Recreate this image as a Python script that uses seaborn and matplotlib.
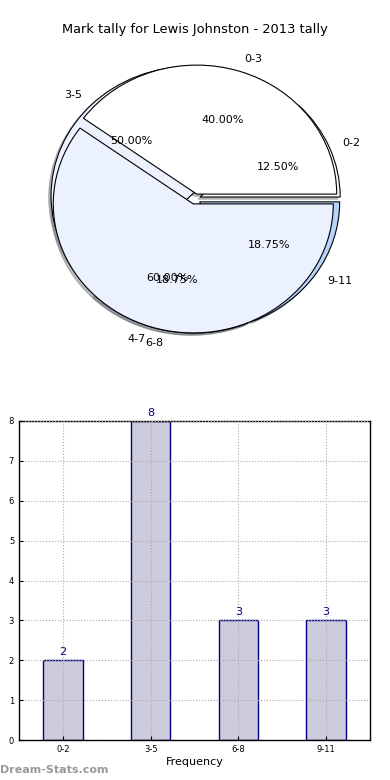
import matplotlib
matplotlib.use('Agg')
import matplotlib.pyplot as plt
import seaborn as sns

# data
intervals = ['0-2', '3-5', '6-8', '9-11']
counts = [2, 8, 3, 3]
halves = ['0-3', '4-7']
half_pct = [40, 60]

sns.set_style('white')
plt.rcParams['font.family'] = ['DejaVu Sans']
plt.rcParams['text.color'] = 'black'
plt.rcParams['axes.labelcolor'] = 'black'
plt.rcParams['xtick.color'] = 'black'
plt.rcParams['ytick.color'] = 'black'

fig = plt.figure(figsize=(3.9, 7.8), dpi=100)
W, H = 390, 780

# pie part (two pies drawn on the same axes, like the original)
cx, cy, rx, ry = 195, 199, 140, 129
lim = 1.3
ax1 = fig.add_axes([(cx - lim * rx) / W, 1 - (cy + lim * ry) / H,
                    2 * lim * rx / W, 2 * lim * ry / H])
shad = {'ox': -0.012, 'oy': -0.012, 'shade': 0.5}
ax1.pie(counts, labels=intervals, autopct='%.2f%%', startangle=0,
        colors=['white', '#ebf1fd', '#d6e4fa', '#b5d3fb'],
        explode=[0.04] * 4, shadow=shad,
        wedgeprops=dict(edgecolor='black', linewidth=0.8),
        textprops=dict(fontsize=8))
ax1.pie(half_pct, labels=halves, autopct='%.2f%%', startangle=0,
        colors=['white', '#ebf1fd'],
        explode=[0.04] * 2, shadow=shad,
        wedgeprops=dict(edgecolor='black', linewidth=0.8),
        textprops=dict(fontsize=8))
ax1.set_aspect('auto')
ax1.set_xlim(-lim, lim)
ax1.set_ylim(-lim, lim)
fig.text(0.5, 1 - 30 / H, 'Mark tally for Lewis Johnston - 2013 tally',
         ha='center', va='center', fontsize=9.4)

# bar part
ax2 = fig.add_axes([19 / W, 1 - 740 / H, 351 / W, 319 / H])
sns.barplot(x=intervals, y=counts, ax=ax2, color='#ccccdd', saturation=1,
            edgecolor='navy', linewidth=1, width=0.45)
ax2.set_xlim(-0.5, 3.5)
ax2.set_ylim(0, 8)
ax2.set_yticks(range(0, 9))
ax2.grid(True, linestyle=':', color='#aaaaaa', linewidth=0.8)
ax2.set_axisbelow(False)
for s in ax2.spines.values():
    s.set_color('black')
    s.set_linewidth(1)
ax2.tick_params(labelsize=6, direction='in', length=3, left=True, bottom=True)
ax2.set_xlabel('Frequency', fontsize=8, labelpad=2)
ax2.set_ylabel('Stat Intervals', fontsize=8, labelpad=4)
for i, v in enumerate(counts):
    ax2.text(i, v + 0.08, str(v), ha='center', va='bottom', fontsize=8, color='navy')

fig.text(0, 1 - 770 / H, 'Dream-Stats.com', ha='left', va='center',
         fontsize=8, color='#999999', fontweight='bold')

fig.savefig('out.png', dpi=100)
